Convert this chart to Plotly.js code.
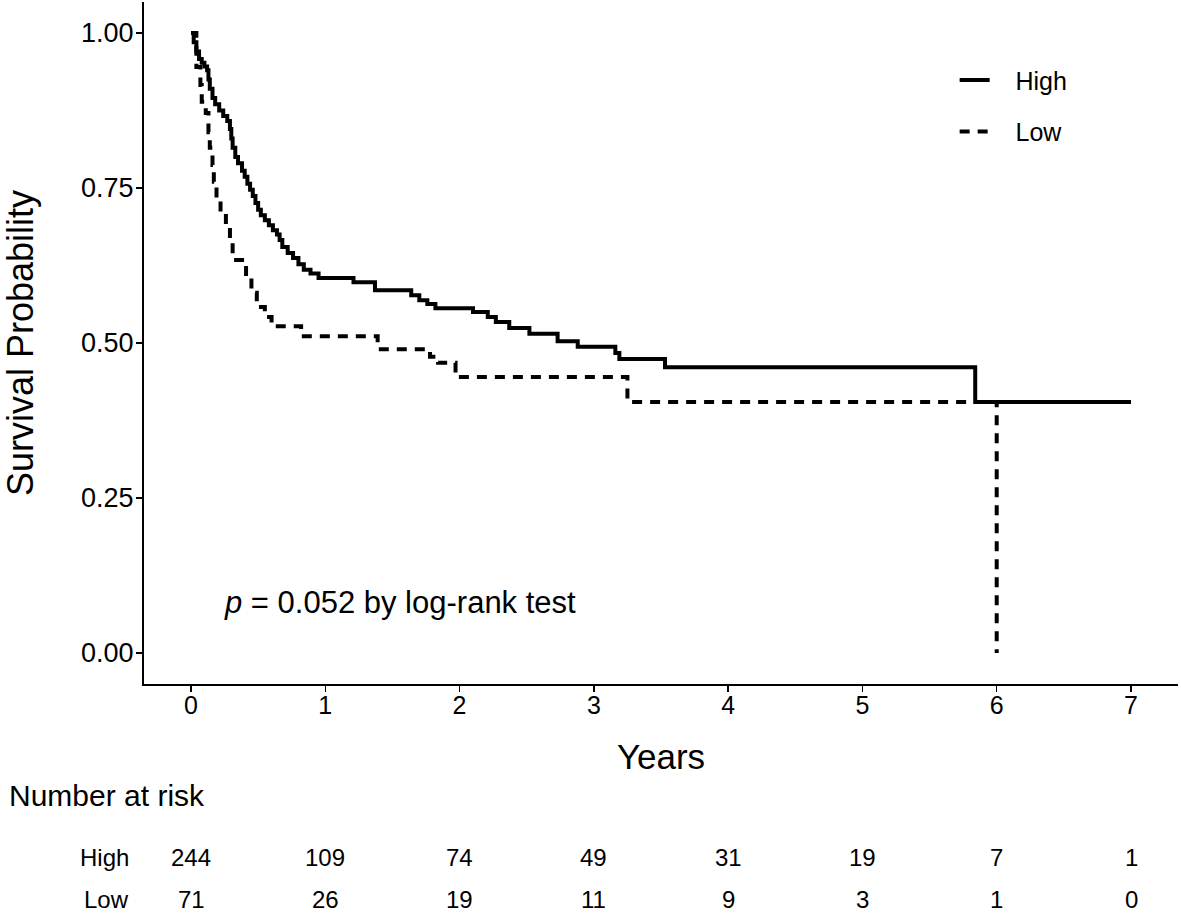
<!DOCTYPE html>
<html>
<head>
<meta charset="utf-8">
<script src="https://cdn.plot.ly/plotly-3.0.1.min.js"></script>
<style>html,body{margin:0;padding:0;background:#fff;}#chart{width:1181px;height:915px;}</style>
</head>
<body>
<div id="chart"></div>
<script>
// Kaplan-Meier step curves (time in years, survival probability)
const highTime = [0, 0.02, 0.04, 0.06, 0.08, 0.10, 0.12, 0.13, 0.14, 0.16, 0.18, 0.21, 0.24, 0.27, 0.29, 0.30, 0.31, 0.33, 0.35, 0.38, 0.40, 0.42, 0.44, 0.46, 0.48, 0.50, 0.52, 0.55, 0.58, 0.61, 0.64, 0.66, 0.68, 0.72, 0.76, 0.80, 0.84, 0.89, 0.95, 1.21, 1.37, 1.64, 1.70, 1.76, 1.82, 2.10, 2.21, 2.27, 2.37, 2.52, 2.73, 2.88, 3.16, 3.19, 3.53, 5.84, 7.00];
const highSurv = [1.000, 0.985, 0.970, 0.958, 0.952, 0.946, 0.940, 0.925, 0.910, 0.895, 0.885, 0.875, 0.866, 0.858, 0.845, 0.830, 0.815, 0.800, 0.790, 0.778, 0.768, 0.757, 0.747, 0.737, 0.726, 0.715, 0.706, 0.698, 0.690, 0.682, 0.675, 0.666, 0.655, 0.645, 0.637, 0.627, 0.618, 0.612, 0.605, 0.598, 0.585, 0.577, 0.569, 0.563, 0.556, 0.550, 0.542, 0.534, 0.524, 0.515, 0.503, 0.494, 0.484, 0.474, 0.461, 0.405, 0.405];

const lowTime = [0, 0.04, 0.07, 0.08, 0.11, 0.13, 0.14, 0.16, 0.17, 0.19, 0.22, 0.26, 0.29, 0.31, 0.41, 0.45, 0.49, 0.55, 0.60, 0.82, 1.39, 1.78, 1.84, 1.97, 3.25, 6.00];
const lowSurv = [1.000, 0.945, 0.916, 0.889, 0.871, 0.840, 0.815, 0.787, 0.760, 0.731, 0.710, 0.687, 0.666, 0.634, 0.606, 0.581, 0.558, 0.542, 0.527, 0.511, 0.490, 0.478, 0.468, 0.445, 0.405, 0.000];

// Number-at-risk table
const riskTimes = [0, 1, 2, 3, 4, 5, 6, 7];
const highRisk = [244, 109, 74, 49, 31, 19, 7, 1];
const lowRisk = [71, 26, 19, 11, 9, 3, 1, 0];
const groupNames = ["High", "Low"];

const FONT = "Liberation Sans, Arial, Helvetica, sans-serif";
const NB = "\u00a0\u00a0\u00a0";

const traces = [
  {x: highTime, y: highSurv, type: "scatter", mode: "lines", line: {shape: "hv", color: "#000", width: 4, dash: "solid"},
   name: NB + groupNames[0], legendgroup: "a", hoverinfo: "skip"},
  {x: lowTime, y: lowSurv, type: "scatter", mode: "lines", line: {shape: "hv", color: "#000", width: 4, dash: "10px,8px"},
   name: NB + groupNames[1], legendgroup: "b", hoverinfo: "skip"}
];

const annotations = [];
annotations.push({xref: "paper", yref: "paper", x: -0.1325, y: -0.163, xanchor: "left", yanchor: "middle",
  text: "Number at risk", showarrow: false, font: {family: FONT, size: 30, color: "#000"}});
const rows = [highRisk, lowRisk];
const rowY = [-0.255, -0.3165];
rows.forEach((vals, r) => {
  annotations.push({xref: "paper", yref: "paper", x: -0.0125, y: rowY[r], xanchor: "right", yanchor: "middle",
    text: groupNames[r], showarrow: false, font: {family: FONT, size: 24, color: "#000"}});
  vals.forEach((v, i) => {
    annotations.push({xref: "x", yref: "paper", x: riskTimes[i], y: rowY[r], xanchor: "center", yanchor: "middle",
      text: String(v), showarrow: false, font: {family: FONT, size: 24, color: "#000"}});
  });
});
annotations.push({xref: "x", yref: "y", x: 0.23, y: 0.081, xanchor: "left", yanchor: "middle",
  text: "<i>p</i> = 0.052 by log-rank test", showarrow: false, font: {family: FONT, size: 31, color: "#000"}});

const layout = {
  width: 1181, height: 915,
  margin: {l: 144, r: 3, t: 2, b: 231},
  paper_bgcolor: "#fff", plot_bgcolor: "#fff",
  font: {family: FONT, color: "#000"},
  showlegend: true,
  legend: {x: 0.784, y: 0.919, xanchor: "left", yanchor: "top", bgcolor: "rgba(0,0,0,0)",
    font: {family: FONT, size: 25, color: "#000"}, traceorder: "grouped", tracegroupgap: 16},
  xaxis: {range: [-0.35, 7.35], tickvals: riskTimes, ticktext: riskTimes.map(String), showgrid: false, zeroline: false,
    showline: true, linecolor: "#000", linewidth: 2, ticks: "outside", ticklen: 6, tickwidth: 1.5, tickcolor: "#000",
    tickfont: {family: FONT, size: 25, color: "#000"}, ticklabelstandoff: -8,
    title: {text: "Years", font: {family: FONT, size: 35, color: "#000"}, standoff: 26}},
  yaxis: {range: [-0.05, 1.05], tickvals: [0, 0.25, 0.5, 0.75, 1], tickformat: ".2f", showgrid: false, zeroline: false,
    showline: true, linecolor: "#000", linewidth: 2, ticks: "outside", ticklen: 6, tickwidth: 1.5, tickcolor: "#000",
    tickfont: {family: FONT, size: 27, color: "#000"}, ticklabelstandoff: -3,
    title: {text: "Survival Probability", font: {family: FONT, size: 36, color: "#000"}, standoff: 44}},
  annotations: annotations
};

Plotly.newPlot("chart", traces, layout, {displayModeBar: false, staticPlot: true});
</script>
</body>
</html>
